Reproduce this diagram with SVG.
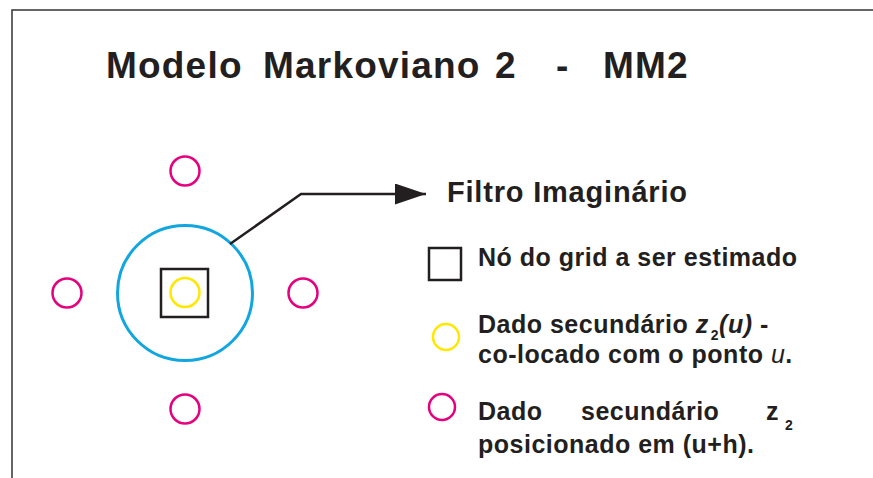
<svg xmlns="http://www.w3.org/2000/svg" width="873" height="478" viewBox="0 0 873 478">
<style>
text{font-family:"Liberation Sans",Arial,Helvetica,sans-serif;font-weight:bold;fill:#231f20}
.title{font-size:37px;letter-spacing:1.2px}
.big{font-size:29px;letter-spacing:0.8px}
.body{font-size:25px;letter-spacing:0.5px}
.sub{font-size:14px}
.it{font-style:italic}
.itn{font-style:italic;font-weight:normal}
.mag{fill:none;stroke:#e5007e;stroke-width:2.5}
.yel{fill:none;stroke:#ffe800;stroke-width:2.5}
.blu{fill:none;stroke:#12a6e0;stroke-width:3}
.sq{fill:none;stroke:#231f20;stroke-width:2.5}
.con{fill:none;stroke:#231f20;stroke-width:2.5}
.frame{fill:none;stroke:#333;stroke-width:1.5}
</style>
<defs>
<marker id="arr" markerUnits="userSpaceOnUse" viewBox="0 0 31 21" markerWidth="31" markerHeight="21" refX="31" refY="10.5" orient="auto">
<path d="M0,0 L31,10.5 L0,21 Z" fill="#231f20"/>
</marker>
</defs>
<path class="frame" d="M12,478 V10 H873"/>
<g id="title">
<text class="title" y="78"><tspan x="106">Modelo</tspan><tspan x="263">Markoviano</tspan><tspan x="495">2</tspan><tspan x="556">-</tspan><tspan x="603">MM2</tspan></text>
</g>
<g id="neighbor-top"><circle class="mag" cx="185" cy="171" r="14.5"/></g>
<g id="neighbor-left"><circle class="mag" cx="67" cy="293" r="14.5"/></g>
<g id="neighbor-right"><circle class="mag" cx="303" cy="293" r="14.5"/></g>
<g id="neighbor-bottom"><circle class="mag" cx="185" cy="409" r="14.5"/></g>
<g id="filter"><circle class="blu" cx="185" cy="293" r="67.5"/></g>
<g id="grid-node">
<rect class="sq" x="161" y="269" width="47" height="48"/>
<circle class="yel" cx="185" cy="292.5" r="14.5"/>
</g>
<g id="connectors">
<path class="con" d="M230,244 L301,194 H426" marker-end="url(#arr)"/>
</g>
<g id="label-filter">
<text class="big" x="447" y="202">Filtro Imaginário</text>
</g>
<g id="legend-node">
<rect class="sq" x="429" y="248" width="32" height="32"/>
<text class="body" x="478" y="266">Nó do grid a ser estimado</text>
</g>
<g id="legend-colocated">
<circle class="yel" cx="446" cy="337" r="13"/>
<text class="body" x="478" y="333">Dado secundário <tspan class="it">z</tspan><tspan class="sub" dx="2" dy="7">2</tspan><tspan class="it" dy="-7">(u)</tspan> -</text>
<text class="body" x="478" y="363">co-locado com o ponto <tspan class="itn">u</tspan>.</text>
</g>
<g id="legend-neighbor">
<circle class="mag" cx="442" cy="407" r="13"/>
<text class="body" y="420"><tspan x="478">Dado</tspan><tspan x="581">secundário</tspan><tspan x="766">z</tspan><tspan class="sub" x="785" dy="10">2</tspan></text>
<text class="body" x="478" y="453">posicionado em (u+h).</text>
</g>
</svg>
